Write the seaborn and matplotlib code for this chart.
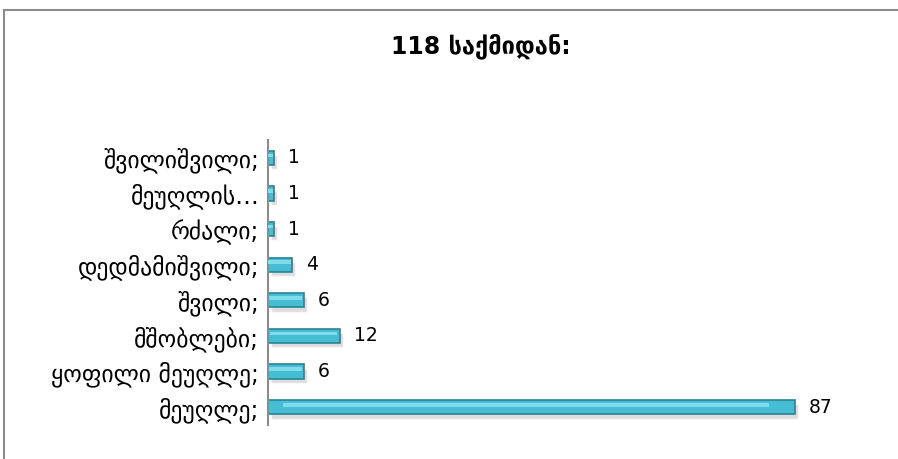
import matplotlib
matplotlib.use('Agg')
import matplotlib.pyplot as plt
from matplotlib.lines import Line2D
import seaborn as sns
import pandas as pd

# --- Data ---
categories = ['შვილიშვილი;', 'მეუღლის…', 'რძალი;', 'დედმამიშვილი;',
              'შვილი;', 'მშობლები;', 'ყოფილი მეუღლე;', 'მეუღლე;']
counts = [1, 1, 1, 4, 6, 12, 6, 87]
title_text = '118 საქმიდან:'

BAR_COLOR = '#47bdd4'
EDGE_COLOR = '#2a8397'

sns.set_theme(style='white')
plt.rcParams['font.family'] = ['DejaVu Sans', 'Noto Sans']

df = pd.DataFrame({'category': categories, 'count': counts})

fig = plt.figure(figsize=(8.98, 4.59), dpi=100)
ax = fig.add_axes([0.298, 0.074, 0.648, 0.621])

# soft shadow beneath the bars
ax.barh(df['category'], df['count'], height=0.40, left=0.5,
        color='#cfcfcf', alpha=0.7, zorder=1)
for p in ax.patches:
    p.set_y(p.get_y() + 0.12)

sns.barplot(data=df, y='category', x='count', orient='h', ax=ax,
            color=BAR_COLOR, width=0.40, saturation=1,
            edgecolor=EDGE_COLOR, linewidth=1.2, zorder=2)

# highlight stripe on each bar
for c, v in zip(range(len(categories)), counts):
    ax.barh(c - 0.07, v * 0.92, height=0.10, left=v * 0.03,
            color='#80dcec', zorder=3, linewidth=0)

for i, v in enumerate(counts):
    ax.text(v + 2.3, i, str(v), va='center', ha='left', fontsize=13.5,
            color='black')

ax.set_xlim(0, 96)
ax.set_ylim(len(categories) - 0.5, -0.5)
ax.set_xlabel('')
ax.set_ylabel('')
ax.set_xticks([])
ax.tick_params(axis='y', labelsize=17, length=0, pad=6, colors='black')
for s in ['top', 'right', 'bottom']:
    ax.spines[s].set_visible(False)
ax.spines['left'].set_color('#8c8c8c')
ax.spines['left'].set_linewidth(1.5)

fig.text(0.535, 0.9, title_text, ha='center', va='center', fontsize=17,
         fontweight='bold', color='black')

# outer frame (top and left edge only)
fig.add_artist(Line2D([0.005, 1.0], [0.978, 0.978], color='#8c8c8c', lw=1.5,
                      transform=fig.transFigure))
fig.add_artist(Line2D([0.005, 0.005], [0.0, 0.978], color='#8c8c8c', lw=1.5,
                      transform=fig.transFigure))

fig.savefig('out.png', dpi=100)
